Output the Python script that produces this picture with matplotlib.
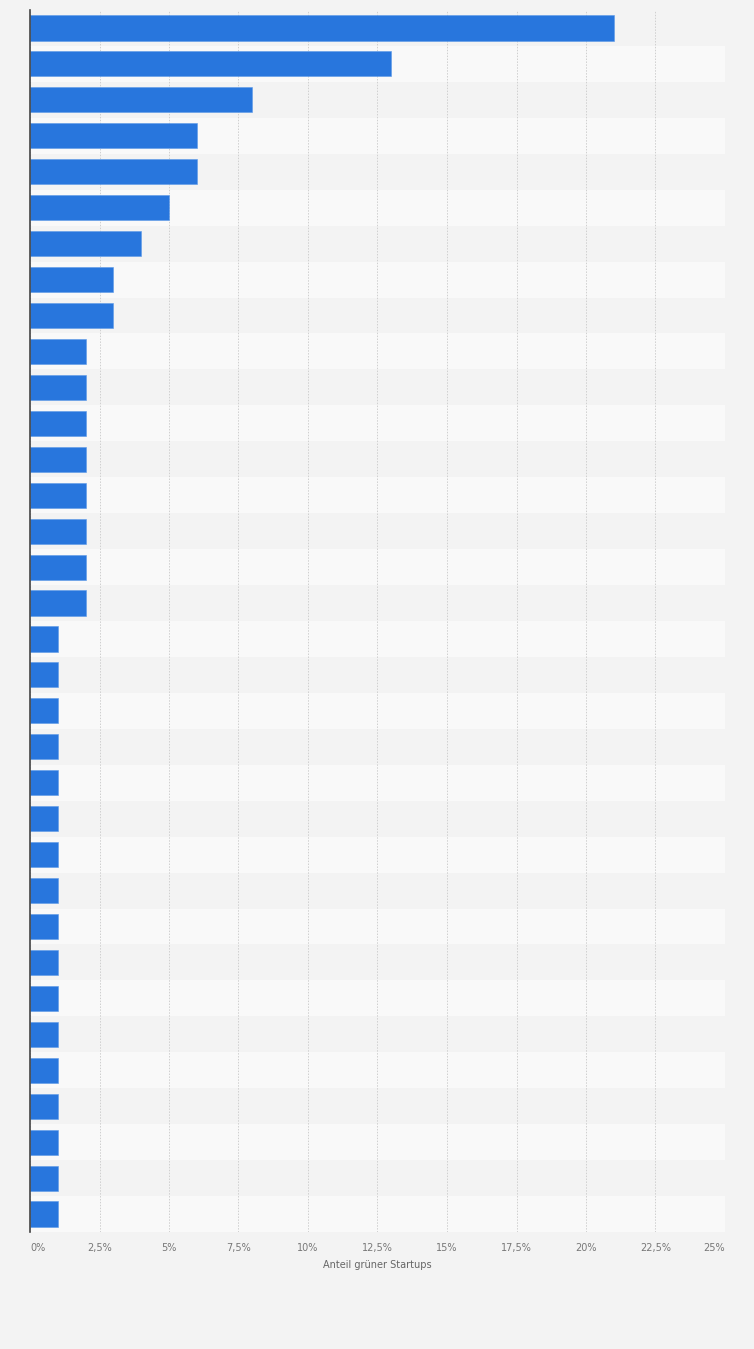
import matplotlib.pyplot as plt
import numpy as np

# Anteil grüner Startups (%), von oben nach unten
werte = [21, 13, 8, 6, 6, 5, 4, 3, 3,
         2, 2, 2, 2, 2, 2, 2, 2,
         1, 1, 1, 1, 1, 1, 1, 1, 1, 1, 1, 1, 1, 1, 1, 1, 1]
xticks = [0, 2.5, 5, 7.5, 10, 12.5, 15, 17.5, 20, 22.5, 25]
xlabels = ['0%', '2,5%', '5%', '7,5%', '10%', '12,5%', '15%', '17,5%', '20%', '22,5%', '25%']

W, H = 754, 1349
fig = plt.figure(figsize=(W / 100, H / 100), dpi=100)
fig.patch.set_facecolor('#f3f3f3')
ax = fig.add_axes([30 / W, 1 - 1232 / H, (725 - 30) / W, (1232 - 10) / H])
ax.set_facecolor('#f3f3f3')

n = len(werte)
y = np.arange(n)

# abwechselnde Zeilenstreifen
for i in range(n):
    ax.axhspan(i - 0.5, i + 0.5, color='#f3f3f3' if i % 2 == 0 else '#f9f9f9', zorder=0, lw=0)

ax.barh(y, werte, height=0.7, color='#2876dd', edgecolor='#5d9ae8', linewidth=0.4, zorder=3)

ax.set_xlim(0, 25)
ax.set_ylim(n - 0.5, -0.5)
ax.set_yticks([])
ax.set_xticks(xticks)
ax.set_xticklabels(xlabels, fontsize=7, color='#777777')
lbls = ax.get_xticklabels()
lbls[0].set_horizontalalignment('left')
lbls[-1].set_horizontalalignment('right')
ax.tick_params(axis='x', length=0, pad=8)
ax.grid(axis='x', color='#cfcfcf', linestyle=(0, (1.5, 1.5)), linewidth=0.7, zorder=1)

for s in ['top', 'right', 'bottom']:
    ax.spines[s].set_visible(False)
ax.spines['left'].set_color('#444444')
ax.spines['left'].set_linewidth(1.2)
ax.spines['left'].set_zorder(4)

ax.set_xlabel('Anteil grüner Startups', fontsize=7, color='#666666', labelpad=5)

fig.savefig('out.png', dpi=100, facecolor=fig.get_facecolor())
